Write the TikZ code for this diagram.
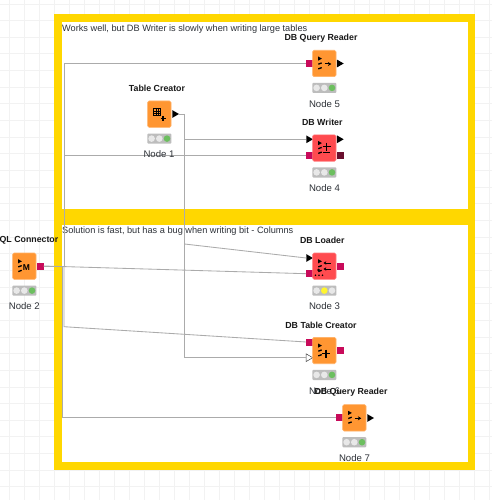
\documentclass[tikz,border=0pt]{standalone}
\usepackage{fontspec}
\setmainfont{Liberation Sans}
\usetikzlibrary{shapes.geometric,arrows.meta}
\definecolor{gridc}{HTML}{F2F2F2}
\definecolor{frameY}{HTML}{FFD700}
\definecolor{kOrange}{HTML}{FF9632}
\definecolor{kRed}{HTML}{FF4B4F}
\definecolor{kPort}{HTML}{C80A5A}
\definecolor{kDark}{HTML}{6A0F2E}
\definecolor{kGreen}{HTML}{6CBF5F}
\definecolor{kYellow}{HTML}{FFF52E}
\definecolor{kOff}{HTML}{E8E8E8}
\definecolor{kBar}{HTML}{BDBDBD}
\definecolor{wire}{HTML}{ABABAB}
\definecolor{txt}{HTML}{2E3238}
\tikzset{
  boxnode/.style={draw=#1!75!white,fill=#1,line width=0.6pt,rounded corners=1.5pt,minimum width=23.4pt,minimum height=26.4pt,inner sep=0pt,outer sep=0pt},
  dbport/.style={fill=#1,inner sep=0pt,outer sep=0pt,minimum size=7pt},
  dataport/.style={regular polygon,regular polygon sides=3,shape border rotate=-90,fill=black,inner sep=0pt,outer sep=0pt,minimum size=9pt},
  hollowport/.style={regular polygon,regular polygon sides=3,shape border rotate=-90,draw=black!75,fill=white,line width=0.5pt,inner sep=0pt,outer sep=0pt,minimum size=9pt},
  toplabel/.style={font=\bfseries\fontsize{8.8}{10}\selectfont,text=black!90,inner sep=0pt},
  idlabel/.style={font=\fontsize{9.6}{10}\selectfont,text=txt,inner sep=0pt},
  notelabel/.style={font=\fontsize{9.2}{10}\selectfont,text=txt,inner sep=0pt,anchor=west},
  wireline/.style={draw=wire,line width=0.85pt},
  glyph/.style={draw=black,line width=1.3pt},
}
% name, cx, box centre y, fill, first light colour
\newcommand\knbox[5]{%
  \node[boxnode=#4] (#1) at (#2,#3) {};
  \fill[kBar,rounded corners=1pt] (#2-12,#3+19.3) rectangle (#2+12,#3+29.5);
  \fill[#5] (#2-7.7,#3+24.4) circle (3.3);
  \fill[\csname lightb#1\endcsname] (#2,#3+24.4) circle (3.3);
  \fill[\csname lightc#1\endcsname] (#2+7.7,#3+24.4) circle (3.3);
}
\newcommand\dbglyph[2]{%
  \fill[black] (#1-6.2,#2-7) -- (#1-6.2,#2-2.8) -- (#1-2.4,#2-4.9) -- cycle;
  \draw[glyph] (#1-6,#2+0.7) -- (#1-2.6,#2-0.6);
  \draw[glyph] (#1-6,#2+5.4) -- (#1-2.6,#2+4.1);
}
\expandafter\def\csname lightbn1\endcsname{kOff}\expandafter\def\csname lightcn1\endcsname{kGreen}
\expandafter\def\csname lightbn2\endcsname{kOff}\expandafter\def\csname lightcn2\endcsname{kGreen}
\expandafter\def\csname lightbn3\endcsname{kYellow}\expandafter\def\csname lightcn3\endcsname{kOff}
\expandafter\def\csname lightbn4\endcsname{kOff}\expandafter\def\csname lightcn4\endcsname{kGreen}
\expandafter\def\csname lightbn5\endcsname{kOff}\expandafter\def\csname lightcn5\endcsname{kGreen}
\expandafter\def\csname lightbn6\endcsname{kOff}\expandafter\def\csname lightcn6\endcsname{kGreen}
\expandafter\def\csname lightbn7\endcsname{kOff}\expandafter\def\csname lightcn7\endcsname{kGreen}
\begin{document}
\begin{tikzpicture}[x=1pt,y=-1pt]
\useasboundingbox (0,0) rectangle (492,500);
\fill[white] (0,0) rectangle (492,500);
% grid
\foreach \i in {0,...,32} \draw[gridc,line width=0.6pt] ({9.5+15*\i},0) -- ({9.5+15*\i},500);
\foreach \i in {0,...,29} \draw[gridc,line width=0.6pt] (0,{486.7-16.65*\i}) -- (492,{486.7-16.65*\i});
% annotation frames
\fill[frameY] (54,14) rectangle (475,470);
\fill[white] (62,22) rectangle (468,209);
\fill[white] (62,224.5) rectangle (468,462);
\node[notelabel] (note1) at (62,29) {Works well, but DB Writer is slowly when writing large tables};
\node[notelabel] (note2) at (62,231) {Solution is fast, but has a bug when writing bit - Columns};
% ports
\node[dbport=kPort] (n2out) at (40,266) {};
\node[dataport] (n1out) at (174.5,114) {};
\node[dbport=kPort] (n5in) at (309.7,63.5) {};
\node[dataport] (n5out) at (339.2,63.5) {};
\node[dataport] (n4ina) at (308.5,139.3) {};
\node[dbport=kPort] (n4inb) at (309.7,155.5) {};
\node[dataport] (n4outa) at (339.2,139.3) {};
\node[dbport=kDark] (n4outb) at (340.5,155.5) {};
\node[dataport] (n3ina) at (308.5,258) {};
\node[dbport=kPort] (n3inb) at (309.7,273.7) {};
\node[dbport=kPort] (n3out) at (340.5,266) {};
\node[dbport=kPort] (n6ina) at (309.7,342) {};
\node[hollowport] (n6inb) at (308.3,357.7) {};
\node[dbport=kPort] (n6out) at (340.5,350.5) {};
\node[dbport=kPort] (n7in) at (339.7,417.7) {};
\node[dataport] (n7out) at (369.5,418) {};
% waypoints
\coordinate (busA) at (64,266);
\coordinate (busB) at (62.7,266);
\coordinate (busE) at (64,326.7);
\coordinate (busC) at (184.5,114);
\coordinate (busD) at (184.5,244);
% connectors
\draw[wireline] (n2out.east) -- (n3inb.west);
\draw[wireline] (n2out.east) -- (busA) |- (n5in.west);
\draw[wireline] (busA) |- (n4inb.west);
\draw[wireline] (busA) -- (busE) -- (n6ina.west);
\draw[wireline] (busB) |- (n7in.west);
\draw[wireline] (n1out.east) -- (busC) |- (n4ina.west);
\draw[wireline] (busC) |- (n6inb.west);
\draw[wireline] (busD) -- (n3ina.west);
% KNIME nodes
\knbox{n1}{159.3}{114.2}{kOrange}{kOff}
\knbox{n2}{24.3}{266.2}{kOrange}{kOff}
\knbox{n3}{324.3}{266.2}{kRed}{kOff}
\knbox{n4}{324.3}{148}{kRed}{kOff}
\knbox{n5}{324.3}{63.5}{kOrange}{kOff}
\knbox{n6}{324.3}{350.5}{kOrange}{kOff}
\knbox{n7}{354.3}{417.8}{kOrange}{kOff}
% icons
\draw[black,line width=0.7pt] (153.5,108.5) rectangle (160.5,115.5);
\draw[black,line width=0.4pt] (155.8,108.5) -- (155.8,115.5) (158.2,108.5) -- (158.2,115.5) (153.5,110.8) -- (160.5,110.8) (153.5,113.2) -- (160.5,113.2);
\draw[glyph] (160.5,118.3) -- (165.5,118.3) (163,115.8) -- (163,120.8);
\dbglyph{24.3}{266.2}
\node[font=\bfseries\fontsize{8.5}{9}\selectfont,inner sep=0pt] (n2icon) at (26.5,268) {M};
\foreach \cx/\cy in {324.3/63.5,354.3/417.8}{
  \dbglyph{\cx}{\cy}
  \draw[black,line width=1pt,-{Stealth[length=3.4pt,width=4pt]}] (\cx+0.5,\cy+0.5) -- (\cx+7,\cy+0.5);
}
\dbglyph{324.3}{148}
\draw[glyph] (322.5,146.5) -- (330.5,146.5) (326.5,142.5) -- (326.5,150.5);
\draw[black,line width=0.8pt] (323,152) -- (329.5,152);
\dbglyph{324.3}{266.2}
\draw[black,line width=0.8pt,{Stealth[length=2.8pt,width=3.4pt]}-] (323.5,263) -- (330.5,263);
\draw[black,line width=0.8pt,{Stealth[length=2.8pt,width=3.4pt]}-] (323.5,269) -- (330.5,269);
\fill[black] (315.5,275.3) circle (0.9) (319,275.3) circle (0.9) (322.5,275.3) circle (0.9);
\fill[black] (318.6,270) circle (1.4);
\dbglyph{324.3}{350.5}
\draw[glyph] (322,353.5) -- (330,353.5) (326,349.5) -- (326,357.5);
% labels
\node[toplabel] (t1) at (157,88.5) {Table Creator};
\node[idlabel] (i1) at (159,154) {Node 1};
\node[toplabel,anchor=east] (t2) at (58.5,240.5) {QL Connector};
\node[idlabel] (i2) at (24.3,306.5) {Node 2};
\node[toplabel] (t3) at (322.3,240.5) {DB Loader};
\node[idlabel] (i3) at (324.5,306.5) {Node 3};
\node[toplabel] (t4) at (322.3,122.5) {DB Writer};
\node[idlabel] (i4) at (324.5,188.5) {Node 4};
\node[toplabel] (t5) at (321,38) {DB Query Reader};
\node[idlabel] (i5) at (324.5,104) {Node 5};
\node[idlabel] (i6) at (324.5,391) {Node 6};
\node[toplabel] (t6) at (321,325) {DB Table Creator};
\node[toplabel] (t7) at (351,392.5) {DB Query Reader};
\node[idlabel] (i7) at (354.5,458.5) {Node 7};
\end{tikzpicture}
\end{document}
